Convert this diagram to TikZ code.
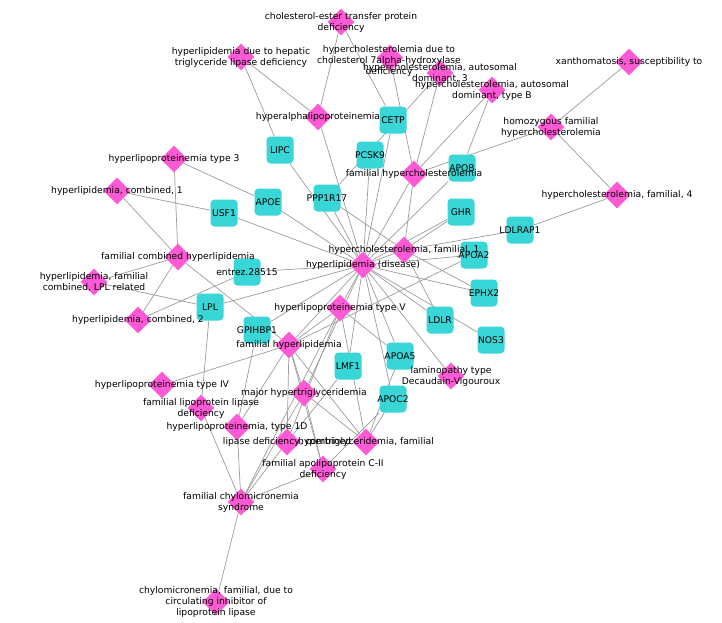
\documentclass[tikz,border=0pt]{standalone}
\usepackage{fontspec}
\setmainfont{DejaVu Sans}
\usetikzlibrary{shapes.geometric}
\definecolor{dismag}{HTML}{FF5AD6}
\definecolor{genecy}{HTML}{38D6D6}
\definecolor{edgegr}{HTML}{9C9C9C}
\pgfdeclarelayer{bg}
\pgfsetlayers{bg,main}

\begin{document}
\begin{tikzpicture}[x=1pt, y=-1pt,
  dis/.style={diamond, fill=dismag, minimum size=27pt, inner sep=0pt},
  gene/.style={rectangle, rounded corners=4pt, fill=genecy, minimum size=27pt, inner sep=0pt},
  lbl/.style={font=\fontsize{9.2}{11}\selectfont, align=center, inner sep=0pt, text=black},
  link/.style={edgegr, line width=0.7pt}]

\useasboundingbox (0,0) rectangle (722,622);

% Disease nodes
\node[dis] (cetpd) at (341,22) {};
\node[dis] (hepatic) at (241,57) {};
\node[dis] (sevena) at (390,58) {};
\node[dis] (adthree) at (440,73) {};
\node[dis] (adb) at (492,90) {};
\node[dis] (xantho) at (629,62) {};
\node[dis] (homo) at (551,127) {};
\node[dis] (fhfour) at (617,195) {};
\node[dis] (hypalpha) at (318,117) {};
\node[dis] (famhc) at (414,174) {};
\node[dis] (fhone) at (404,250) {};
\node[dis] (hub) at (363,265) {};
\node[dis] (hlpthree) at (174,159) {};
\node[dis] (combone) at (117,191) {};
\node[dis] (fch) at (178,257) {};
\node[dis] (lplrel) at (94,282) {};
\node[dis] (combtwo) at (138,320) {};
\node[dis] (hlpfive) at (340,308) {};
\node[dis] (famhl) at (289,345) {};
\node[dis] (hlpfour) at (162,385) {};
\node[dis] (flpld) at (201,408) {};
\node[dis] (hlpid) at (237,427) {};
\node[dis] (majhtg) at (304,393) {};
\node[dis] (lipdef) at (287,442) {};
\node[dis] (htgfam) at (366,442) {};
\node[dis] (apocdef) at (323,469) {};
\node[dis] (fcs) at (241,502) {};
\node[dis] (chylo) at (216,602) {};
\node[dis] (lamin) at (451,376) {};

% Gene nodes
\node[gene] (cetp) at (393,120) {};
\node[gene] (lipc) at (280,150) {};
\node[gene] (pcsk) at (370,155) {};
\node[gene] (apob) at (462,168) {};
\node[gene] (apoe) at (268,202) {};
\node[gene] (ppp) at (327,198) {};
\node[gene] (usf) at (224,213) {};
\node[gene] (ghr) at (461,212) {};
\node[gene] (ldlrap) at (520,230) {};
\node[gene] (apoatwo) at (474,255) {};
\node[gene] (entrez) at (247,272) {};
\node[gene] (ephx) at (484,293) {};
\node[gene] (lpl) at (210,307) {};
\node[gene] (ldlr) at (440,320) {};
\node[gene] (gpihbp) at (257,330) {};
\node[gene] (nos) at (491,340) {};
\node[gene] (lmf) at (348,366) {};
\node[gene] (apoafive) at (400,356) {};
\node[gene] (apocii) at (393,399) {};

% Edges
\begin{pgfonlayer}{bg}
\fill[white] (0,0) rectangle (722,622);
\foreach \a/\b in {cetpd/hypalpha, cetpd/cetp, hepatic/hypalpha, hepatic/lipc,
  sevena/famhc, adthree/famhc, adthree/ppp, adb/famhc, adb/apob,
  homo/famhc, homo/xantho, homo/fhfour, fhfour/ldlrap, famhc/hub, famhc/fhone,
  hypalpha/hub, lipc/hub, pcsk/hub, cetp/hub, apob/hub, ppp/hub, ppp/fhone,
  ghr/hub, ghr/fhone, ldlrap/fhone, apoatwo/hub, ephx/hub, ephx/fhone,
  ldlr/hub, ldlr/fhone, nos/hub, lamin/hub, fhone/hub,
  apoe/hub, apoe/hlpthree, usf/hub, usf/combone, entrez/hub, entrez/combtwo,
  lpl/hub, lpl/lplrel, lpl/flpld, gpihbp/hub, gpihbp/hlpid,
  hlpthree/fch, combone/fch, fch/lplrel, fch/combtwo, fch/famhl,
  hlpfour/famhl, famhl/hub, famhl/hlpfive, famhl/lipdef, famhl/htgfam,
  famhl/apoatwo, famhl/apocdef, famhl/majhtg, hlpid/famhl, hlpid/fcs,
  flpld/fcs, lipdef/fcs, majhtg/fcs, apocdef/fcs, fcs/chylo,
  hub/hlpfive, hub/majhtg, hub/lmf, hub/apoafive, hub/apocii,
  hlpfive/apoafive, hlpfive/lipdef, hlpfive/fcs, hlpfive/htgfam,
  majhtg/htgfam, majhtg/apocdef, lmf/lipdef, apocii/htgfam, apocii/apocdef,
  apoafive/htgfam}
  \draw[link] (\a) -- (\b);
\end{pgfonlayer}

% Gene labels
\node[lbl] (cetp-t) at (cetp) {CETP};
\node[lbl] (lipc-t) at (lipc) {LIPC};
\node[lbl] (pcsk-t) at (pcsk) {PCSK9};
\node[lbl] (apob-t) at (apob) {APOB};
\node[lbl] (apoe-t) at (apoe) {APOE};
\node[lbl] (ppp-t) at (ppp) {PPP1R17};
\node[lbl] (usf-t) at (usf) {USF1};
\node[lbl] (ghr-t) at (ghr) {GHR};
\node[lbl] (ldlrap-t) at (ldlrap) {LDLRAP1};
\node[lbl] (apoatwo-t) at (apoatwo) {APOA2};
\node[lbl] (entrez-t) at (entrez) {entrez.28515};
\node[lbl] (ephx-t) at (ephx) {EPHX2};
\node[lbl] (lpl-t) at (lpl) {LPL};
\node[lbl] (ldlr-t) at (ldlr) {LDLR};
\node[lbl] (gpihbp-t) at (gpihbp) {GPIHBP1};
\node[lbl] (nos-t) at (nos) {NOS3};
\node[lbl] (lmf-t) at (lmf) {LMF1};
\node[lbl] (apoafive-t) at (apoafive) {APOA5};
\node[lbl] (apocii-t) at (apocii) {APOC2};

% Disease labels
\node[lbl] (cetpd-t) at (cetpd) {cholesterol-ester transfer protein\\deficiency};
\node[lbl] (hepatic-t) at (hepatic) {hyperlipidemia due to hepatic\\triglyceride lipase deficiency};
\node[lbl] (sevena-t) at (389,61) {hypercholesterolemia due to\\cholesterol 7alpha-hydroxylase\\deficiency};
\node[lbl] (adthree-t) at (adthree) {hypercholesterolemia, autosomal\\dominant, 3};
\node[lbl] (adb-t) at (adb) {hypercholesterolemia, autosomal\\dominant, type B};
\node[lbl] (xantho-t) at (xantho) {xanthomatosis, susceptibility to};
\node[lbl] (homo-t) at (homo) {homozygous familial\\hypercholesterolemia};
\node[lbl] (fhfour-t) at (fhfour) {hypercholesterolemia, familial, 4};
\node[lbl] (hypalpha-t) at (hypalpha) {hyperalphalipoproteinemia};
\node[lbl] (famhc-t) at (famhc) {familial hypercholesterolemia};
\node[lbl] (fhone-t) at (fhone) {hypercholesterolemia, familial, 1};
\node[lbl] (hub-t) at (hub) {hyperlipidemia (disease)};
\node[lbl] (hlpthree-t) at (hlpthree) {hyperlipoproteinemia type 3};
\node[lbl] (combone-t) at (combone) {hyperlipidemia, combined, 1};
\node[lbl] (fch-t) at (fch) {familial combined hyperlipidemia};
\node[lbl] (lplrel-t) at (lplrel) {hyperlipidemia, familial\\combined, LPL related};
\node[lbl] (combtwo-t) at (combtwo) {hyperlipidemia, combined, 2};
\node[lbl] (hlpfive-t) at (hlpfive) {hyperlipoproteinemia type V};
\node[lbl] (famhl-t) at (famhl) {familial hyperlipidemia};
\node[lbl] (hlpfour-t) at (hlpfour) {hyperlipoproteinemia type IV};
\node[lbl] (flpld-t) at (flpld) {familial lipoprotein lipase\\deficiency};
\node[lbl] (hlpid-t) at (hlpid) {hyperlipoproteinemia, type 1D};
\node[lbl] (majhtg-t) at (majhtg) {major hypertriglyceridemia};
\node[lbl] (lipdef-t) at (lipdef) {lipase deficiency, combined};
\node[lbl] (htgfam-t) at (htgfam) {hypertriglyceridemia, familial};
\node[lbl] (apocdef-t) at (apocdef) {familial apolipoprotein C-II\\deficiency};
\node[lbl] (fcs-t) at (fcs) {familial chylomicronemia\\syndrome};
\node[lbl] (chylo-t) at (chylo) {chylomicronemia, familial, due to\\circulating inhibitor of\\lipoprotein lipase};
\node[lbl] (lamin-t) at (lamin) {laminopathy type\\Decaudain-Vigouroux};

\end{tikzpicture}
\end{document}
